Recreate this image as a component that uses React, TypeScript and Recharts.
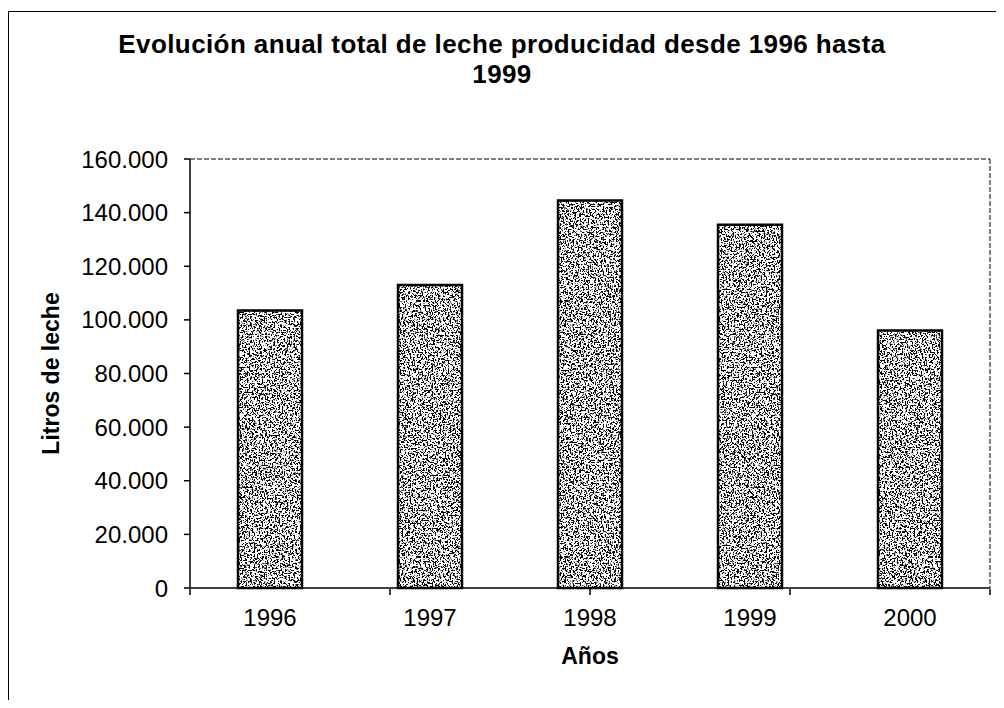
import { BarChart, Bar, XAxis, YAxis, Label } from "recharts";

const years = ["1996", "1997", "1998", "1999", "2000"];
const litros = [103500, 113000, 144500, 135500, 96000];
const yTicks = [0, 20000, 40000, 60000, 80000, 100000, 120000, 140000, 160000];
const boundaries = [0, 1, 2, 3, 4, 5];

const data = years.map((year, i) => ({ year, litros: litros[i] }));

const font = "'Liberation Sans', Arial, sans-serif";

// 20000 -> "20.000"
function miles(v: number) {
  return String(v).replace(/\B(?=(\d{3})+(?!\d))/g, ".");
}

function App() {
  return (
    <div
      style={{
        position: "relative",
        width: 988,
        height: 692,
        fontFamily: font,
        color: "#000",
        background: "#fff",
      }}
    >
      <div
        style={{
          position: "absolute",
          left: 0,
          top: 3,
          right: 0,
          bottom: 0,
          borderLeft: "1.5px solid #000",
          borderTop: "1.5px solid #000",
        }}
      />
      <div
        style={{
          position: "absolute",
          left: 0,
          width: 988,
          top: 21,
          textAlign: "center",
          fontWeight: "bold",
          fontSize: 26,
          lineHeight: "30px",
          letterSpacing: 0.4,
        }}
      >
        <div>Evolución anual total de leche producidad desde 1996 hasta</div>
        <div>1999</div>
      </div>
      <div style={{ position: "absolute", left: 0, top: 0 }}>
        <BarChart
          width={988}
          height={692}
          data={data}
          margin={{ top: 150, right: 5, bottom: 0, left: 0 }}
          barCategoryGap="30%"
        >
          <defs>
            <filter
              id="noise"
              x="0"
              y="0"
              width="100%"
              height="100%"
              colorInterpolationFilters="sRGB"
            >
              <feTurbulence
                type="fractalNoise"
                baseFrequency="0.6"
                numOctaves={2}
                seed={4}
                stitchTiles="stitch"
                result="n"
              />
              <feColorMatrix
                in="n"
                type="matrix"
                values="0 0 0 0 0  0 0 0 0 0  0 0 0 0 0  14 0 0 0 -7.1"
              />
            </filter>
            <pattern
              id="speckle"
              patternUnits="userSpaceOnUse"
              width={256}
              height={256}
            >
              <rect width={256} height={256} fill="#fff" />
              <rect width={256} height={256} fill="#000" filter="url(#noise)" />
            </pattern>
          </defs>
          <XAxis
            xAxisId="cat"
            dataKey="year"
            height={1}
            tickLine={false}
            tickSize={0}
            tickMargin={21}
            axisLine={{ stroke: "#000", strokeWidth: 1.5 }}
            tick={{ fill: "#000", fontSize: 24, fontFamily: font }}
          />
          {/* ticks between categories, like Excel */}
          <XAxis
            xAxisId="grid"
            type="number"
            domain={[0, 5]}
            ticks={boundaries}
            allowDataOverflow
            tickFormatter={() => ""}
            axisLine={false}
            tickLine={{ stroke: "#000", strokeWidth: 1.5 }}
            tickSize={6}
            height={111}
          >
            <Label
              value="Años"
              position="insideBottom"
              offset={36}
              style={{
                fill: "#000",
                fontSize: 23,
                fontWeight: "bold",
                fontFamily: font,
              }}
            />
          </XAxis>
          <XAxis
            xAxisId="top"
            orientation="top"
            dataKey="year"
            height={1}
            tick={false}
            tickLine={false}
            axisLine={{ stroke: "#000", strokeWidth: 1, strokeDasharray: "5 2" }}
          />
          <YAxis
            yAxisId="left"
            domain={[0, 160000]}
            ticks={yTicks}
            width={182}
            tickSize={6}
            tickMargin={16}
            tickFormatter={miles}
            axisLine={{ stroke: "#000", strokeWidth: 1.5 }}
            tickLine={{ stroke: "#000", strokeWidth: 1.5 }}
            tick={{ fill: "#000", fontSize: 24, fontFamily: font }}
          >
            <Label
              value="Litros de leche"
              position="insideLeft"
              angle={-90}
              offset={43}
              style={{
                fill: "#000",
                fontSize: 23,
                fontWeight: "bold",
                fontFamily: font,
                textAnchor: "middle",
              }}
            />
          </YAxis>
          <YAxis
            yAxisId="right"
            orientation="right"
            domain={[0, 160000]}
            width={1}
            tick={false}
            tickLine={false}
            axisLine={{ stroke: "#000", strokeWidth: 1, strokeDasharray: "5 2" }}
          />
          <Bar
            xAxisId="cat"
            yAxisId="left"
            dataKey="litros"
            fill="url(#speckle)"
            stroke="#000"
            strokeWidth={2.5}
            isAnimationActive={false}
          />
        </BarChart>
      </div>
    </div>
  );
}

export default App;
